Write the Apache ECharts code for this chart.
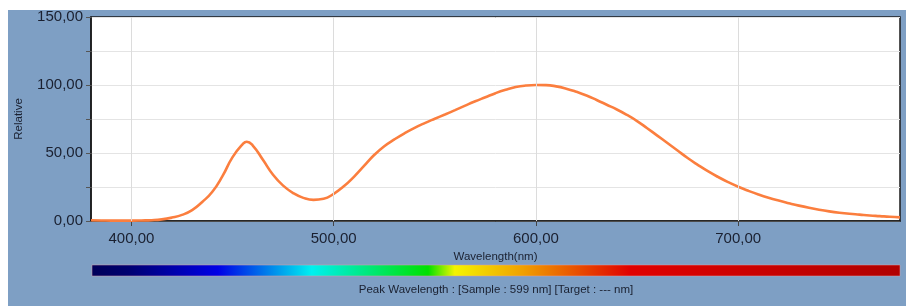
<!DOCTYPE html>
<html>
<head>
<meta charset="utf-8">
<script src="https://cdn.jsdelivr.net/npm/echarts@6/dist/echarts.min.js"></script>
<style>
  html, body { margin: 0; padding: 0; background: #fff; }
  #wrap { position: relative; width: 906px; height: 306px; }
  #bg { position: absolute; left: 8px; top: 10px; right: 0; bottom: 0; background: #7e9fc4; }
  #chart { position: absolute; left: 0; top: 0; width: 906px; height: 306px; }
</style>
</head>
<body>
<div id="wrap">
  <div id="bg"></div>
  <div id="chart"></div>
</div>
<script>
// spectrum (nm, relative)
const wavelengths = [380, 385, 390, 395, 400, 405, 410, 415, 420, 425, 430, 435, 440, 445, 450, 455, 457, 460, 465, 470, 475, 480, 485, 490, 495, 500,
  505, 510, 515, 520, 525, 530, 535, 540, 545, 550, 555, 560, 565, 570, 575, 580, 585, 590, 595, 600, 605, 610, 615, 620, 625, 630,
  635, 640, 645, 650, 655, 660, 665, 670, 675, 680, 685, 690, 695, 700, 705, 710, 715, 720, 725, 730, 735, 740, 745, 750, 755, 760,
  765, 770, 775, 780];
const relative = [0.5, 0.4, 0.3, 0.3, 0.3, 0.4, 0.6, 1.2, 2.5, 4.5, 8, 14, 21.5, 33, 47, 56.5, 58.3, 55.5, 45, 34, 26, 20.5, 17, 15.5, 16.3, 20,
  25.5, 32.5, 40.5, 48.5, 55, 60, 64.5, 68.5, 72, 75.2, 78.3, 81.5, 84.8, 88, 91, 94, 96.5, 98.5, 99.6, 100, 99.9, 99, 97.3, 95, 92.3, 89,
  85.5, 82, 78, 73.5, 68.2, 62.8, 57.3, 51.8, 46.3, 41.3, 36.6, 32.4, 28.6, 25.2, 22.2, 19.5, 17.1, 15, 13.1, 11.3, 9.7, 8.3, 7.1, 6.1, 5.3, 4.7,
  4.1, 3.6, 3.1, 2.7];

const xTicks = [400, 500, 600, 700];
const xMin = 380, xMax = 780;
const yMin = 0, yMax = 150, yStep = 25;

const peakText = 'Peak Wavelength : [Sample : 599 nm] [Target : --- nm]';

const fmt = v => v.toFixed(2).replace('.', ',');
const font = 'Liberation Sans, Arial, sans-serif';

const chart = echarts.init(document.getElementById('chart'));

const option = {
  animation: false,
  backgroundColor: 'transparent',
  grid: {
    left: 91, top: 17, right: 6, bottom: 85,
    show: true,
    backgroundColor: '#ffffff',
    borderColor: '#1a1a1a',
    borderWidth: 1.5
  },
  xAxis: {
    type: 'value',
    min: xMin,
    max: xMax,
    name: 'Wavelength(nm)',
    nameLocation: 'middle',
    nameGap: 21,
    nameTextStyle: { color: '#1a2030', fontSize: 11.5, fontFamily: font },
    axisLine: { show: true, lineStyle: { color: '#1a1a1a', width: 1.5 } },
    axisTick: { show: true, customValues: xTicks, length: 5, lineStyle: { color: '#444' } },
    axisLabel: {
      customValues: xTicks,
      formatter: v => fmt(v),
      color: '#1a2030', fontSize: 15, fontFamily: font, margin: 10
    },
    splitLine: { show: false }
  },
  yAxis: {
    type: 'value',
    min: yMin,
    max: yMax,
    interval: yStep,
    name: 'Relative',
    nameLocation: 'middle',
    nameGap: 66,
    nameTextStyle: { color: '#1a2030', fontSize: 11.5, fontFamily: font },
    axisLine: { show: true, lineStyle: { color: '#1a1a1a', width: 1.5 } },
    axisTick: { show: true, length: 5, lineStyle: { color: '#555' } },
    axisLabel: {
      formatter: v => (v % 50 === 0 ? fmt(v) : ''),
      color: '#1a2030', fontSize: 15, fontFamily: font, margin: 8
    },
    splitLine: { show: true, lineStyle: { color: '#e4e4e4', width: 1 } }
  },
  series: [{
    type: 'line',
    data: wavelengths.map((w, i) => [w, relative[i]]),
    smooth: 0.5,
    showSymbol: false,
    lineStyle: { color: '#fb7e3e', width: 2.6 },
    markLine: {
      silent: true,
      symbol: 'none',
      label: { show: false },
      lineStyle: { color: '#dcdcdc', width: 1, type: 'solid' },
      data: xTicks.map(t => ({ xAxis: t }))
    },
    z: 3
  }],
  graphic: [
    {
      type: 'rect',
      shape: { x: 92, y: 265, width: 808, height: 11 },
      style: {
        fill: new echarts.graphic.LinearGradient(0, 0, 1, 0, [
          { offset: 0, color: '#000058' },
          { offset: 0.045, color: '#000070' },
          { offset: 0.156, color: '#0000e6' },
          { offset: 0.272, color: '#00f0f0' },
          { offset: 0.416, color: '#00e000' },
          { offset: 0.449, color: '#f4f400' },
          { offset: 0.533, color: '#f0a000' },
          { offset: 0.666, color: '#e00000' },
          { offset: 1, color: '#b00000' }
        ]),
        stroke: '#d9a0a8',
        lineWidth: 0.5
      }
    },
    {
      type: 'text',
      x: 496,
      y: 284,
      style: {
        text: peakText,
        fill: '#1a2030',
        fontSize: 11.5,
        fontFamily: font,
        align: 'center'
      }
    }
  ]
};

chart.setOption(option);
</script>
</body>
</html>
